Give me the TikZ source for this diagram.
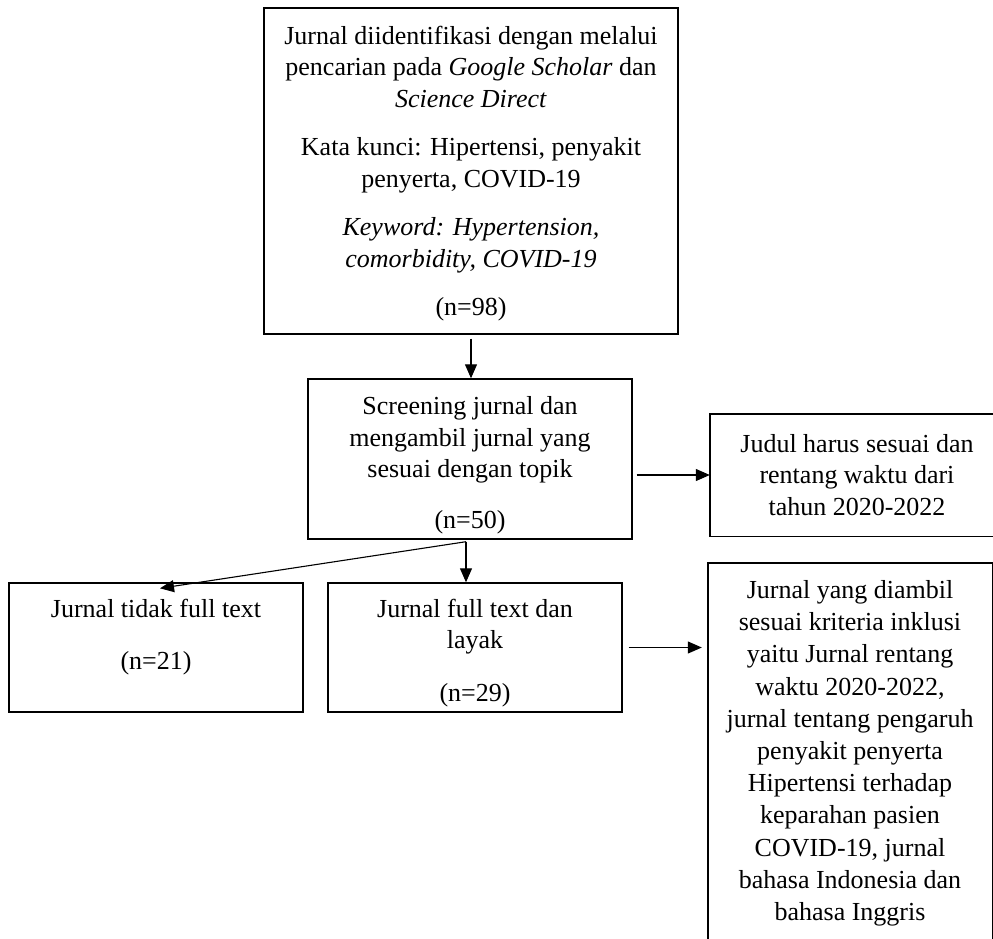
\documentclass[tikz,border=0pt]{standalone}
\usepackage{fontspec}
\setmainfont{Liberation Serif}
\usetikzlibrary{arrows.meta}
\newcommand\toppad[1]{\rule{0pt}{#1pt}}
\begin{document}
\begin{tikzpicture}[x=1pt,y=-1pt,
  boxbase/.style={inner sep=0pt, align=center, font=\fontsize{26}{31.5}\selectfont},
  box/.style={boxbase, draw, line width=1.4pt},
  openbox/.style={boxbase, draw=none},
  boxline/.style={line width=1.4pt},
  arr/.style={line width=1.1pt, -{Triangle[length=14pt,width=12pt]}}]
\useasboundingbox (0,0) rectangle (993,938);
\clip (0,0) rectangle (993,938);

\node[box, minimum width=414pt, minimum height=326pt] (top) at (471,171)
 {\toppad{23.5}Jurnal diidentifikasi dengan melalui\\
  pencarian pada \textit{Google Scholar} dan\\
  \textit{Science Direct}\\[17pt]
  Kata kunci: Hipertensi, penyakit\\
  penyerta, COVID-19\\[17pt]
  \textit{Keyword: Hypertension,}\\
  \textit{comorbidity, COVID-19}\\[17pt]
  (n=98)};

\node[box, minimum width=324pt, minimum height=160pt] (screen) at (470,459)
 {\toppad{30.5}Screening jurnal dan\\
  mengambil jurnal yang\\
  sesuai dengan topik\\[19pt]
  (n=50)};

\node[openbox, minimum width=294pt, minimum height=122pt] (judul) at (857,475)
 {Judul harus sesuai dan\\
  rentang waktu dari\\
  tahun 2020-2022};
\draw[boxline] (judul.north east) -- (judul.north west) -- (judul.south west) -- (judul.south east);

\node[box, minimum width=294pt, minimum height=129pt] (left) at (156,647.5)
 {\toppad{29}Jurnal tidak full text\\[21pt]
  (n=21)\\
  \phantom{(n=21)}};

\node[box, minimum width=294pt, minimum height=129pt] (mid) at (475,647.5)
 {\toppad{29}Jurnal full text dan\\
  layak\\[21pt]
  (n=29)};

\node[openbox, minimum width=284pt, minimum height=376pt,
      font=\fontsize{26}{32.2}\selectfont] (right) at (850,751)
 {\toppad{22.5}Jurnal yang diambil\\
  sesuai kriteria inklusi\\
  yaitu Jurnal rentang\\
  waktu 2020-2022,\\
  jurnal tentang pengaruh\\
  penyakit penyerta\\
  Hipertensi terhadap\\
  keparahan pasien\\
  COVID-19, jurnal\\
  bahasa Indonesia dan\\
  bahasa Inggris};
\draw[boxline] (right.south west) -- (right.north west) -- (right.north east) -- (right.south east);

\coordinate (split) at ([xshift=-4pt,yshift=-2pt]screen.south);

\draw[arr, shorten <=4pt] (top.south) -- (top.south |- screen.north);
\draw[arr, shorten <=4pt] (screen.east |- judul.west) -- (judul.west);
\draw[arr] (split) -- ([xshift=4pt,yshift=-6pt]left.north);
\draw[arr] (split) -- (split |- mid.north);
\draw[arr, shorten <=6pt, shorten >=6pt] (mid.east) -- (mid.east -| right.west);
\end{tikzpicture}
\end{document}
